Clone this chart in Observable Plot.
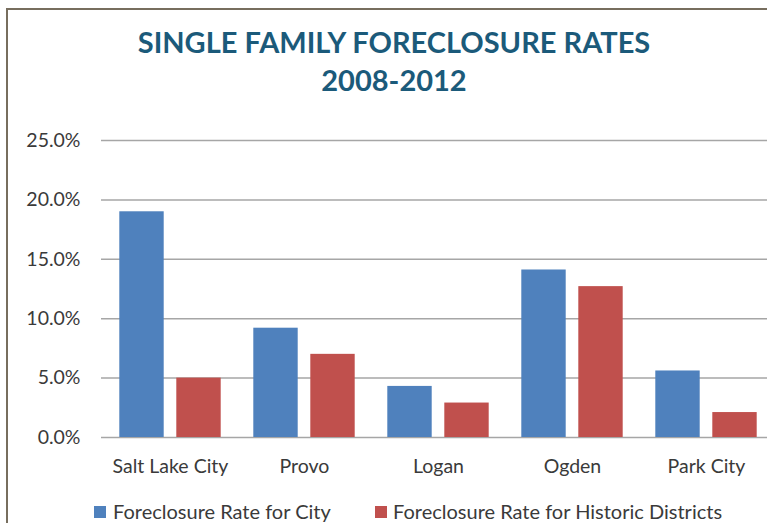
<!DOCTYPE html>
<html>
<head>
<meta charset="utf-8">
<script src="https://cdn.jsdelivr.net/npm/d3@7"></script>
<script src="https://cdn.jsdelivr.net/npm/@observablehq/plot@0.6"></script>
<style>
  html, body { margin: 0; padding: 0; background: #fff; overflow: hidden; }
  #wrap { position: relative; width: 767px; height: 523px; font-family: Lato, "Open Sans", sans-serif; }
  #frame { position: absolute; left: 6px; top: 8px; width: 800px; height: 600px;
           border-left: 2px solid #776e5e; border-top: 2px solid #776e5e; }
  #title { position: absolute; left: 0; top: 23px; width: 788px; text-align: center;
           font-weight: 700; font-size: 29px; line-height: 37.5px; color: #1b5a7a; }
  #chart { position: absolute; left: 0; top: 110px; }
  .leg { position: absolute; top: 499px; font-size: 20px; line-height: 24px; color: #3a3a3a; white-space: nowrap; }
  .sw { position: absolute; top: 506px; width: 12px; height: 12px; }
</style>
</head>
<body>
<div id="wrap">
  <div id="frame"></div>
  <div id="title">SINGLE FAMILY FORECLOSURE RATES<br>2008-2012</div>
  <div id="chart"></div>
  <div id="legend"></div>
</div>
<script>
const cities = ["Salt Lake City", "Provo", "Logan", "Ogden", "Park City"];
const cityRate = [19.0, 9.2, 4.3, 14.1, 5.6];
const historicRate = [5.0, 7.0, 2.9, 12.7, 2.1];
const seriesNames = ["Foreclosure Rate for City", "Foreclosure Rate for Historic Districts"];
const seriesColors = ["#4f81bd", "#c0504d"];
const yTicks = [0, 5, 10, 15, 20, 25];

const cityData = cities.map((c, i) => ({city: c, value: cityRate[i], series: seriesNames[0]}));
const histData = cities.map((c, i) => ({city: c, value: historicRate[i], series: seriesNames[1]}));

const chart = Plot.plot({
  width: 767,
  height: 370,
  marginLeft: 101,
  marginRight: 0,
  marginTop: 30,
  marginBottom: 43,
  style: {fontFamily: "Lato, 'Open Sans', sans-serif", fontSize: "19.5px", color: "#3a3a3a", background: "transparent"},
  x: {domain: cities, range: [101.7, 774.6], padding: 0, label: null, tickSize: 0, tickPadding: 22},
  y: {domain: [0, 25], label: null, ticks: yTicks, tickSize: 0, tickPadding: 21, tickFormat: d => d.toFixed(1) + "%"},
  color: {domain: seriesNames, range: seriesColors},
  marks: [
    Plot.ruleY(yTicks, {stroke: "#a6a6a6", strokeWidth: 1.5, strokeOpacity: 1}),
    Plot.barY(cityData, {x: "city", y: "value", fill: "series", insetLeft: 16.3, insetRight: 73.3}),
    Plot.barY(histData, {x: "city", y: "value", fill: "series", insetLeft: 73.3, insetRight: 16.3})
  ]
});
document.getElementById("chart").appendChild(chart);

const legend = document.getElementById("legend");
const legPos = [{sw: 94, tx: 113}, {sw: 375, tx: 393}];
seriesNames.forEach((name, i) => {
  const sw = document.createElement("div");
  sw.className = "sw";
  sw.style.left = legPos[i].sw + "px";
  sw.style.background = seriesColors[i];
  legend.appendChild(sw);
  const tx = document.createElement("div");
  tx.className = "leg";
  tx.style.left = legPos[i].tx + "px";
  tx.textContent = name;
  legend.appendChild(tx);
});
</script>
</body>
</html>
